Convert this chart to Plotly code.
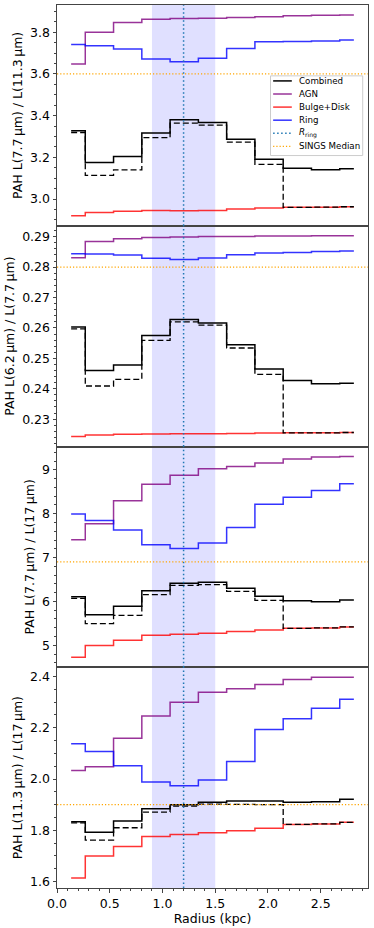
"""
PAH band ratios vs radius: Combined / AGN / Bulge+Disk / Ring models,
four stacked panels sharing the radius axis.
"""

import plotly.graph_objects as go
from plotly.subplots import make_subplots

# =============================================================================
# DATA
# =============================================================================

RADIUS_KPC = [0.134, 0.402, 0.670, 0.938, 1.206, 1.474, 1.742, 2.010, 2.278, 2.546, 2.814]

R_RING = 1.2
RING_SPAN = [0.9, 1.5]

# Panel 1: L(7.7) / L(11.3)
COMB_77_113 = [3.327, 3.175, 3.204, 3.316, 3.380, 3.367, 3.287, 3.191, 3.148, 3.140, 3.145]
DASH_77_113 = [3.319, 3.113, 3.140, 3.294, 3.364, 3.354, 3.273, 3.166, 2.960, 2.961, 2.963]
AGN_77_113 = [3.647, 3.800, 3.846, 3.862, 3.865, 3.867, 3.870, 3.874, 3.878, 3.881, 3.882]
BULGE_77_113 = [2.920, 2.936, 2.942, 2.945, 2.944, 2.945, 2.952, 2.957, 2.960, 2.961, 2.963]
RING_77_113 = [3.741, 3.735, 3.719, 3.671, 3.658, 3.675, 3.722, 3.754, 3.755, 3.757, 3.762]

# Panel 2: L(6.2) / L(7.7)
COMB_62_77 = [0.2603, 0.2460, 0.2478, 0.2575, 0.2628, 0.2616, 0.2545, 0.2465, 0.2427, 0.2416, 0.2418]
DASH_62_77 = [0.2597, 0.2409, 0.2431, 0.2559, 0.2620, 0.2609, 0.2534, 0.2447, 0.2255, 0.2255, 0.2256]
AGN_62_77 = [0.2831, 0.2884, 0.2893, 0.2897, 0.2899, 0.2901, 0.2901, 0.2902, 0.2902, 0.2903, 0.2903]
BULGE_62_77 = [0.2243, 0.2248, 0.2250, 0.2251, 0.2252, 0.2252, 0.2253, 0.2254, 0.2255, 0.2255, 0.2256]
RING_62_77 = [0.2844, 0.2843, 0.2840, 0.2829, 0.2825, 0.2830, 0.2841, 0.2846, 0.2848, 0.2851, 0.2853]

# Panel 3: L(7.7) / L(17)
COMB_77_17 = [6.108, 5.698, 5.888, 6.245, 6.412, 6.435, 6.298, 6.116, 6.017, 5.994, 6.032]
DASH_77_17 = [6.070, 5.493, 5.683, 6.154, 6.366, 6.381, 6.230, 6.025, 5.387, 5.395, 5.417]
AGN_77_17 = [7.406, 7.770, 8.294, 8.674, 8.879, 9.023, 9.076, 9.159, 9.250, 9.296, 9.304]
BULGE_77_17 = [4.727, 4.992, 5.114, 5.228, 5.250, 5.273, 5.311, 5.349, 5.387, 5.395, 5.417]
RING_77_17 = [7.991, 7.846, 7.626, 7.292, 7.209, 7.330, 7.687, 8.218, 8.378, 8.529, 8.681]

# Panel 4: L(11.3) / L(17)
COMB_113_17 = [1.833, 1.792, 1.836, 1.884, 1.900, 1.909, 1.914, 1.914, 1.909, 1.911, 1.921]
DASH_113_17 = [1.829, 1.762, 1.810, 1.871, 1.894, 1.902, 1.901, 1.900, 1.823, 1.825, 1.831]
AGN_113_17 = [2.033, 2.048, 2.159, 2.246, 2.300, 2.339, 2.352, 2.369, 2.388, 2.397, 2.397]
BULGE_113_17 = [1.614, 1.700, 1.737, 1.776, 1.784, 1.790, 1.798, 1.808, 1.823, 1.825, 1.831]
RING_113_17 = [2.138, 2.107, 2.052, 1.988, 1.974, 1.996, 2.068, 2.193, 2.235, 2.276, 2.311]

SINGS_MEDIAN = [3.6, 0.28, 6.9, 1.9]

Y_TITLES = [
    "PAH L(7.7\u2009\u03bcm) / L(11.3\u2009\u03bcm)",
    "PAH L(6.2\u2009\u03bcm) / L(7.7\u2009\u03bcm)",
    "PAH L(7.7\u2009\u03bcm) / L(17\u2009\u03bcm)",
    "PAH L(11.3\u2009\u03bcm) / L(17\u2009\u03bcm)",
]

LEGEND_LABELS = ['Combined', 'AGN', 'Bulge+Disk', 'Ring',
                 '<i>R</i><sub>ring</sub>', 'SINGS Median']

# Colors
COMB_COLOR = 'black'
AGN_COLOR = 'rgba(128, 0, 128, 0.8)'
BULGE_COLOR = 'rgba(255, 0, 0, 0.8)'
RING_COLOR = 'rgba(0, 0, 255, 0.8)'
RRING_COLOR = '#1f77b4'
SINGS_COLOR = 'orange'
FRAME_COLOR = '#444444'
FONT = 'DejaVu Sans'

# matplotlib-like dotted patterns
RRING_DOT = '1.5px,2.5px'
SINGS_DOT = '1.2px,2px'

# tick settings per panel: (dtick, minor dtick, format)
Y_TICKS = [(0.2, 0.05, '.1f'), (0.01, 0.002, '.2f'), (1, 0.2, 'd'), (0.2, 0.05, '.1f')]


def padded_range(*series):
    lo = min(min(s) for s in series)
    hi = max(max(s) for s in series)
    pad = (hi - lo) * 0.05
    return [lo - pad, hi + pad]


def add_legend_box(fig):
    """Hand-built matplotlib-like legend in the top panel (compact rows)."""
    styles = [
        dict(color=COMB_COLOR, width=1.5),
        dict(color=AGN_COLOR, width=1.5),
        dict(color=BULGE_COLOR, width=1.5),
        dict(color=RING_COLOR, width=1.5),
        dict(color=RRING_COLOR, width=1.5, dash=RRING_DOT),
        dict(color=SINGS_COLOR, width=1.2, dash=SINGS_DOT),
    ]
    xr, yr = 'x domain', 'y domain'
    fig.add_shape(type='rect', xref=xr, yref=yr, x0=0.6865, x1=0.983, y0=0.318, y1=0.679,
                  fillcolor='rgba(255,255,255,0.8)', line=dict(color='#cccccc', width=1))
    top, gap = 0.6561, 0.0593
    for k, (label, style) in enumerate(zip(LEGEND_LABELS, styles)):
        yk = top - k * gap
        fig.add_shape(type='line', xref=xr, yref=yr, x0=0.695, x1=0.755, y0=yk, y1=yk,
                      line=style)
        fig.add_annotation(xref=xr, yref=yr, x=0.773, y=yk, text=label, showarrow=False,
                           xanchor='left', yanchor='middle',
                           font=dict(size=8.7, color='black', family=FONT))


def create_figure():
    panels = [
        (COMB_77_113, DASH_77_113, AGN_77_113, BULGE_77_113, RING_77_113),
        (COMB_62_77, DASH_62_77, AGN_62_77, BULGE_62_77, RING_62_77),
        (COMB_77_17, DASH_77_17, AGN_77_17, BULGE_77_17, RING_77_17),
        (COMB_113_17, DASH_113_17, AGN_113_17, BULGE_113_17, RING_113_17),
    ]

    fig = make_subplots(rows=4, cols=1, shared_xaxes=True, vertical_spacing=0)

    for i, (comb, dash, agn, bulge, ring) in enumerate(panels):
        row = i + 1

        step = dict(shape='hvh', width=1.5)
        fig.add_trace(go.Scatter(x=RADIUS_KPC, y=agn, mode='lines', name='AGN',
                                 line=dict(color=AGN_COLOR, **step)), row=row, col=1)
        fig.add_trace(go.Scatter(x=RADIUS_KPC, y=bulge, mode='lines', name='Bulge+Disk',
                                 line=dict(color=BULGE_COLOR, **step)), row=row, col=1)
        fig.add_trace(go.Scatter(x=RADIUS_KPC, y=ring, mode='lines', name='Ring',
                                 line=dict(color=RING_COLOR, **step)), row=row, col=1)
        fig.add_trace(go.Scatter(x=RADIUS_KPC, y=dash, mode='lines', name='Combined (alt)',
                                 line=dict(color=COMB_COLOR, dash='6px,3px', shape='hvh', width=1.3)),
                      row=row, col=1)
        fig.add_trace(go.Scatter(x=RADIUS_KPC, y=comb, mode='lines', name='Combined',
                                 line=dict(color=COMB_COLOR, **step)), row=row, col=1)

        # ring region shading + markers (after traces so the subplot is not empty)
        fig.add_vrect(x0=RING_SPAN[0], x1=RING_SPAN[1],
                      fillcolor='rgba(0, 0, 255, 0.12)', line_width=0,
                      layer='below', row=row, col=1)
        fig.add_vline(x=R_RING, line=dict(color=RRING_COLOR, dash=RRING_DOT, width=1.5),
                      row=row, col=1)
        fig.add_hline(y=SINGS_MEDIAN[i], line=dict(color=SINGS_COLOR, dash=SINGS_DOT, width=1.2),
                      row=row, col=1)

        dtick, minor_dtick, fmt = Y_TICKS[i]
        fig.update_yaxes(
            row=row, col=1,
            range=padded_range(comb, dash, agn, bulge, ring),
            dtick=dtick, tickformat=fmt,
            ticks='outside', ticklen=3.5, tickwidth=1, tickcolor=FRAME_COLOR,
            minor=dict(dtick=minor_dtick, ticks='outside', ticklen=2, tickcolor=FRAME_COLOR),
            showline=True, mirror=True, linecolor=FRAME_COLOR, linewidth=1,
            showgrid=False, zeroline=False,
            tickfont=dict(size=12.5, color='black'),
            title=dict(text=Y_TITLES[i], font=dict(size=12.5, color='black'), standoff=4),
        )
        fig.update_xaxes(
            row=row, col=1,
            range=[0, 2.948], dtick=0.5, tickformat='.1f',
            showline=True, mirror=True, linecolor=FRAME_COLOR, linewidth=1,
            showgrid=False, zeroline=False,
        )

    fig.update_xaxes(
        row=4, col=1,
        ticks='outside', ticklen=3.5, tickcolor=FRAME_COLOR,
        minor=dict(dtick=0.1, ticks='outside', ticklen=2, tickcolor=FRAME_COLOR),
        tickfont=dict(size=12.5, color='black'),
        title=dict(text='Radius (kpc)', font=dict(size=12.5, color='black'), standoff=2),
    )

    add_legend_box(fig)

    fig.update_layout(
        width=374, height=928,
        margin=dict(l=57, r=6, t=5, b=40),
        plot_bgcolor='white', paper_bgcolor='white',
        font=dict(family=FONT, color='black'),
        showlegend=False,
    )
    return fig


def main():
    fig = create_figure()
    # drop the default page margin so the figure sits at the window origin
    fig.write_html("out.html", config={'displayModeBar': False},
                   post_script="document.body.style.margin='0';")


if __name__ == '__main__':
    main()
